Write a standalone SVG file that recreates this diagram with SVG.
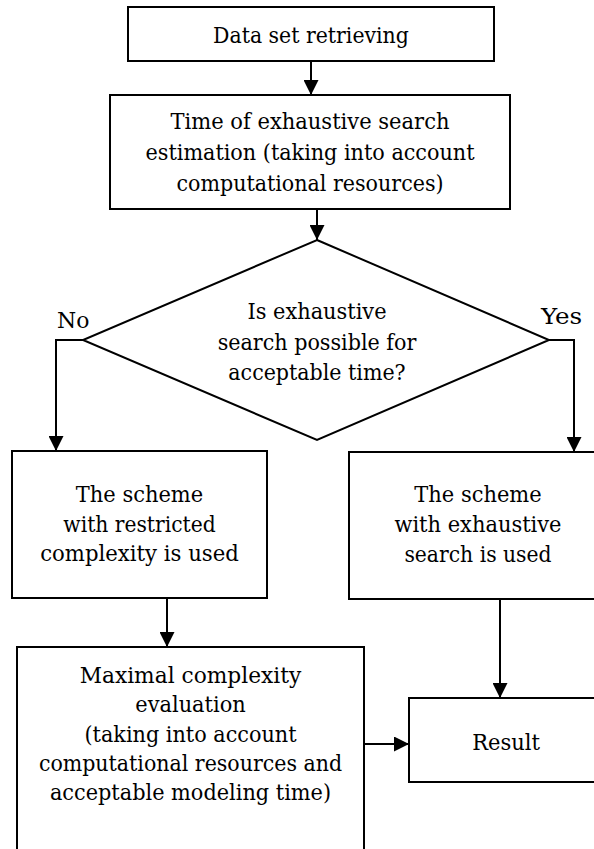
<svg xmlns="http://www.w3.org/2000/svg" width="594" height="849" viewBox="0 0 594 849">
<style>
.box{fill:#fff;stroke:#000;stroke-width:2}
.conn{fill:none;stroke:#000;stroke-width:2}
text{font-family:'DejaVu Serif',serif;font-size:22.6px;fill:#000}
.c{text-anchor:middle}
</style>
<defs>
<marker id="ah" markerUnits="userSpaceOnUse" markerWidth="15" markerHeight="15" refX="15" refY="7.5" orient="auto">
<path d="M0,0 L15,7.5 L0,15 Z" fill="#000"/>
</marker>
</defs>
<rect width="594" height="849" fill="#fff"/>
<g id="connectors">
<line class="conn" x1="311" y1="61" x2="311" y2="95" marker-end="url(#ah)"/>
<line class="conn" x1="317" y1="209" x2="317" y2="240" marker-end="url(#ah)"/>
<polyline class="conn" points="83,340 56,340 56,451" marker-end="url(#ah)"/>
<polyline class="conn" points="549,340 574,340 574,452" marker-end="url(#ah)"/>
<line class="conn" x1="167" y1="598" x2="167" y2="647" marker-end="url(#ah)"/>
<line class="conn" x1="500" y1="599" x2="500" y2="698" marker-end="url(#ah)"/>
<line class="conn" x1="364" y1="744" x2="409" y2="744" marker-end="url(#ah)"/>
<text x="57" y="328" textLength="32.4" lengthAdjust="spacingAndGlyphs">No</text>
<text x="541" y="324" textLength="41.2" lengthAdjust="spacingAndGlyphs">Yes</text>
</g>
<g id="n1">
<rect class="box" x="128" y="7" width="366" height="54"/>
<text class="c" x="311" y="42.5" textLength="195.8" lengthAdjust="spacingAndGlyphs">Data set retrieving</text>
</g>
<g id="n2">
<rect class="box" x="110" y="95" width="400" height="114"/>
<text class="c" x="310" y="129" textLength="278.9" lengthAdjust="spacingAndGlyphs">Time of exhaustive search</text>
<text class="c" x="310" y="160" textLength="329" lengthAdjust="spacingAndGlyphs">estimation (taking into account</text>
<text class="c" x="310" y="191" textLength="267.1" lengthAdjust="spacingAndGlyphs">computational resources)</text>
</g>
<g id="n3">
<polygon class="box" points="317,240 549,340 317,440 83,340"/>
<text class="c" x="317" y="319" textLength="139.1" lengthAdjust="spacingAndGlyphs">Is exhaustive</text>
<text class="c" x="317" y="349.5" textLength="198.7" lengthAdjust="spacingAndGlyphs">search possible for</text>
<text class="c" x="317" y="380" textLength="177.3" lengthAdjust="spacingAndGlyphs">acceptable time?</text>
</g>
<g id="n4">
<rect class="box" x="12" y="451" width="255" height="147"/>
<text class="c" x="139.5" y="502" textLength="127.3" lengthAdjust="spacingAndGlyphs">The scheme</text>
<text class="c" x="139.5" y="531.5" textLength="152.3" lengthAdjust="spacingAndGlyphs">with restricted</text>
<text class="c" x="139.5" y="561" textLength="198.7" lengthAdjust="spacingAndGlyphs">complexity is used</text>
</g>
<g id="n5">
<rect class="box" x="349" y="452" width="260" height="147"/>
<text class="c" x="478" y="502" textLength="127.3" lengthAdjust="spacingAndGlyphs">The scheme</text>
<text class="c" x="478" y="532" textLength="167.1" lengthAdjust="spacingAndGlyphs">with exhaustive</text>
<text class="c" x="478" y="562" textLength="147.2" lengthAdjust="spacingAndGlyphs">search is used</text>
</g>
<g id="n6">
<rect class="box" x="17" y="647" width="347" height="220"/>
<text class="c" x="190.5" y="683" textLength="221.6" lengthAdjust="spacingAndGlyphs">Maximal complexity</text>
<text class="c" x="190.5" y="712" textLength="110.4" lengthAdjust="spacingAndGlyphs">evaluation</text>
<text class="c" x="190.5" y="741.5" textLength="212" lengthAdjust="spacingAndGlyphs">(taking into account</text>
<text class="c" x="190.5" y="771" textLength="303.2" lengthAdjust="spacingAndGlyphs">computational resources and</text>
<text class="c" x="190.5" y="800" textLength="281.1" lengthAdjust="spacingAndGlyphs">acceptable modeling time)</text>
</g>
<g id="n7">
<rect class="box" x="409" y="698" width="200" height="84"/>
<text class="c" x="506" y="750" textLength="67.7" lengthAdjust="spacingAndGlyphs">Result</text>
</g>
</svg>
